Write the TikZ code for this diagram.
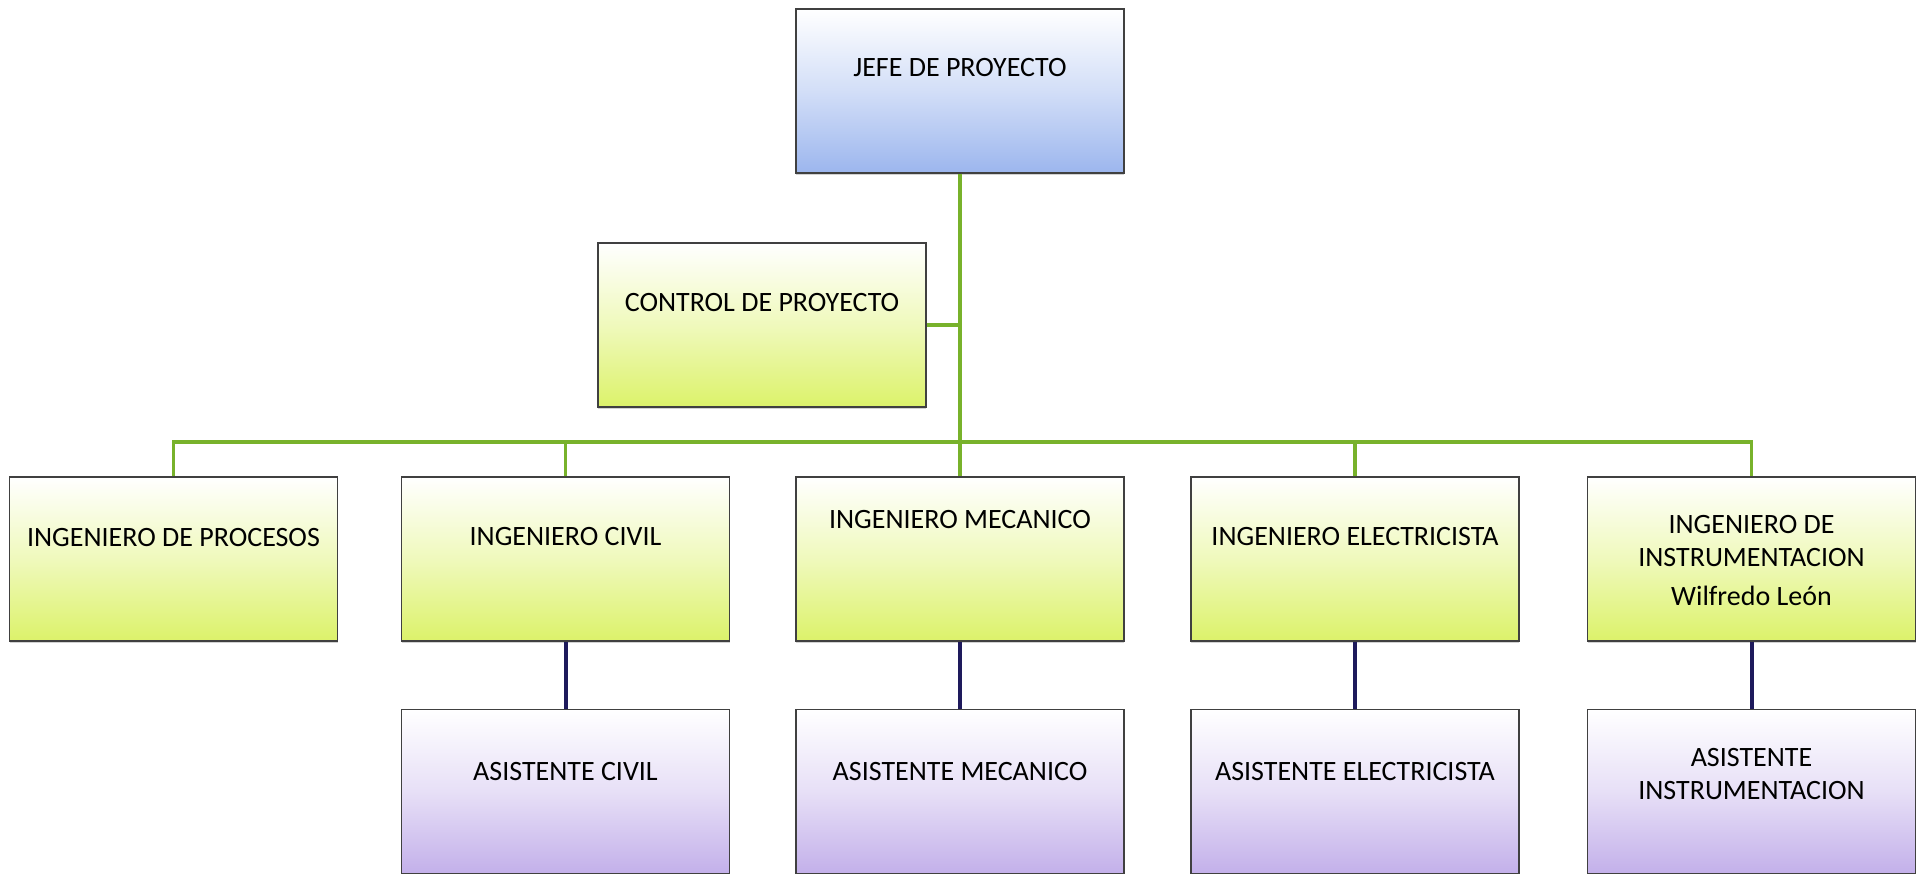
\documentclass[tikz,border=0pt]{standalone}
\usepackage{fontspec}
\setmainfont{Carlito}
\usepackage{tikz}
\usetikzlibrary{positioning,calc,shadows}
\definecolor{jefeblue}{HTML}{9CB6EE}
\definecolor{leafgreen}{HTML}{DCF26A}
\definecolor{lilac}{HTML}{C3B0EA}
\definecolor{busgreen}{HTML}{78B22B}
\definecolor{navyline}{HTML}{1E1A5C}
\tikzset{
    orgbox/.style={
        draw=black!75,
        line width=1.4pt,
        rectangle,
        minimum width=328pt,
        minimum height=164pt,
        inner sep=0pt,
        align=center,
        font=\fontsize{28}{33}\selectfont,
        text height=20pt,
        drop shadow={shadow xshift=0pt, shadow yshift=-2pt, opacity=0.35}
    },
    up/.style={text depth=#1},
    down/.style={text height=#1, text depth=20pt},
    topbox/.style={orgbox, top color=white, bottom color=jefeblue, middle color=jefeblue!45},
    midbox/.style={orgbox, top color=white, bottom color=leafgreen, middle color=leafgreen!45},
    lowbox/.style={orgbox, top color=white, bottom color=lilac, middle color=lilac!40},
    busline/.style={draw=busgreen, line width=3.5pt},
    subline/.style={draw=navyline, line width=4pt}
}

\begin{document}
\begin{tikzpicture}[x=1pt, y=-1pt]
    \useasboundingbox[fill=white] (0,0) rectangle (1921,874);

    % Boxes
    \node[topbox, up=49pt] (jefe) at (960,91) {JEFE DE PROYECTO};
    \node[midbox, up=47pt] (control) at (762,325) {CONTROL DE PROYECTO};

    \node[midbox, up=45pt] (procesos) at (173.5,559) {INGENIERO DE PROCESOS};
    \node[midbox, up=48pt] (civil) at (565.5,559) {INGENIERO CIVIL};
    \node[midbox, up=82pt] (mecanico) at (960,559) {INGENIERO MECANICO};
    \node[midbox, up=48pt] (electrico) at (1355,559) {INGENIERO ELECTRICISTA};
    \node[midbox, down=113pt] (instrum) at (1751.5,559)
        {INGENIERO DE\\INSTRUMENTACION\\[6pt]Wilfredo León};

    \node[lowbox, up=43pt] (acivil) at (565.5,791.5) {ASISTENTE CIVIL};
    \node[lowbox, up=43pt] (amecanico) at (960,791.5) {ASISTENTE MECANICO};
    \node[lowbox, up=43pt] (aelectrico) at (1355,791.5) {ASISTENTE ELECTRICISTA};
    \node[lowbox, down=36pt] (ainstrum) at (1751.5,791.5) {ASISTENTE\\INSTRUMENTACION};

    % Connectors
    \coordinate (bus) at (960,442);
    \draw[busline] (jefe.south) -- (mecanico.north);
    \draw[busline] (control.east) -- (control.east -| jefe.south);
    \draw[busline] (procesos.north) -- (procesos.north |- bus)
        -- (instrum.north |- bus) -- (instrum.north);
    \foreach \n in {civil, electrico}
        \draw[busline] (\n.north) -- (\n.north |- bus);

    % Assistants
    \foreach \a/\b in {civil/acivil, mecanico/amecanico, electrico/aelectrico, instrum/ainstrum}
        \draw[subline] (\a.south) -- (\b.north);
\end{tikzpicture}
\end{document}
